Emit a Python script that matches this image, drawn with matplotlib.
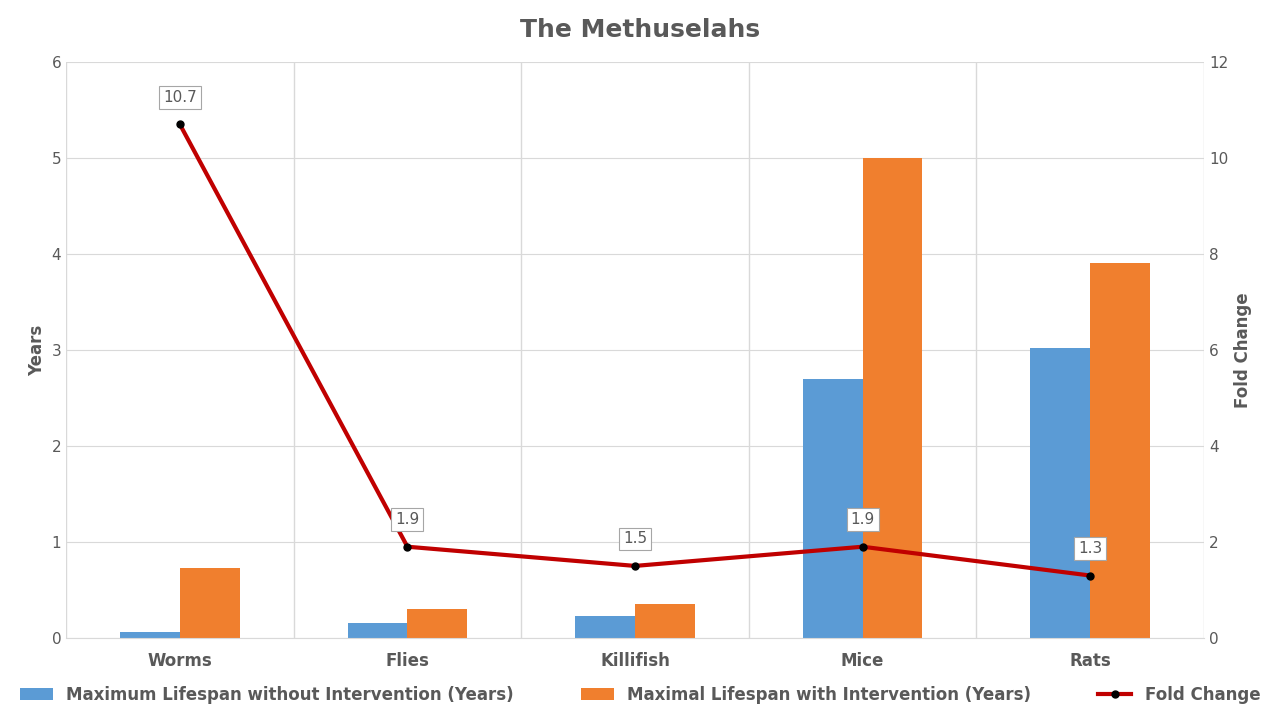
import matplotlib
matplotlib.use("Agg")
import matplotlib.pyplot as plt
import numpy as np

categories = ["Worms", "Flies", "Killifish", "Mice", "Rats"]
without_int = [0.065, 0.16, 0.23, 2.7, 3.02]
with_int = [0.73, 0.30, 0.35, 5.0, 3.91]
fold = [10.7, 1.9, 1.5, 1.9, 1.3]

grey = "#595959"
fig = plt.figure(figsize=(12.8, 7.2), dpi=100)
ax = fig.add_axes([0.0516, 0.114, 0.889, 0.80])
x = np.arange(len(categories))
w = 0.263
b1 = ax.bar(x - w/2, without_int, w, color="#5B9BD5", label="Maximum Lifespan without Intervention (Years)", zorder=2)
b2 = ax.bar(x + w/2, with_int, w, color="#F07F2E", label="Maximal Lifespan with Intervention (Years)", zorder=2)
ax.set_xlim(-0.5, len(categories) - 0.5)
ax.set_ylim(0, 6)
ax.set_yticks(range(7))
ax.set_xticks(x)
ax.set_xticklabels(categories, fontsize=12, fontweight="bold", color=grey)
ax.tick_params(axis="y", labelsize=11, colors=grey, length=0)
ax.tick_params(axis="x", length=0, pad=10)
ax.set_ylabel("Years", fontsize=12, fontweight="bold", color=grey)
ax.grid(axis="y", color="#D9D9D9", zorder=0)
for b in np.arange(-0.5, len(categories), 1.0):
    ax.axvline(b, color="#D9D9D9", lw=1, zorder=0)
for s in ["top", "right", "left"]:
    ax.spines[s].set_visible(False)
ax.spines["bottom"].set_color("#D9D9D9")

ax2 = ax.twinx()
l, = ax2.plot(x, fold, color="#C00000", lw=3, marker="o", markersize=5,
              markerfacecolor="black", markeredgecolor="black", label="Fold Change", zorder=3)
ax2.set_ylim(0, 12)
ax2.set_yticks(range(0, 13, 2))
ax2.tick_params(axis="y", labelsize=11, colors=grey, length=0)
ax2.set_ylabel("Fold Change", fontsize=12, fontweight="bold", color=grey)
for s in ax2.spines.values():
    s.set_visible(False)
for xi, v in zip(x, fold):
    ax2.annotate(f"{v}", (xi, v), xytext=(0, 14), textcoords="offset points",
                 ha="center", va="bottom", fontsize=11, color=grey,
                 bbox=dict(boxstyle="square,pad=0.25", fc="white", ec="#A6A6A6", lw=0.8))

fig.suptitle("The Methuselahs", y=0.975, fontsize=18, fontweight="bold", color=grey)
fig.legend(handles=[b1, b2, l], loc="center", bbox_to_anchor=(0.5, 0.035), ncol=3,
           frameon=False, fontsize=12, handlelength=2, columnspacing=4,
           prop={"weight": "bold", "size": 12}, labelcolor=grey)
fig.savefig("out.png", dpi=100)
